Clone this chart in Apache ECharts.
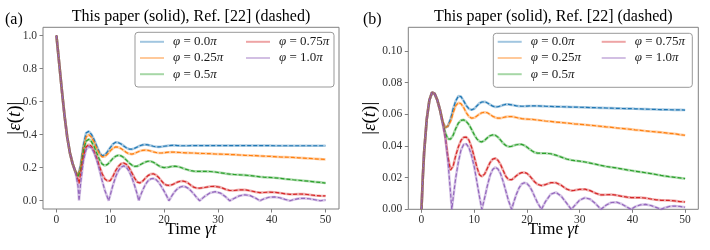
<!DOCTYPE html>
<html><head><meta charset="utf-8">
<script src="https://cdn.jsdelivr.net/npm/echarts@6/dist/echarts.min.js"></script>
<style>
html,body{margin:0;padding:0;background:#fff;}
#a,#b{position:absolute;top:0;width:355px;height:250px;}
#a{left:0}#b{left:355px}
</style>
</head><body><div id="a"></div><div id="b"></div>
<script>
// ---------- DATA ----------
const phiLabels = ['0.0', '0.25', '0.5', '0.75', '1.0'];
const colors = ['#1f77b4', '#ff7f0e', '#2ca02c', '#d62728', '#9467bd'];

const xTicks = [0, 10, 20, 30, 40, 50];
const yTicksA = [0, 0.2, 0.4, 0.6, 0.8, 1.0];
const yTicksB = [0, 0.02, 0.04, 0.06, 0.08, 0.10];

// panel (a): time grid
const tA = [0,0.5,1,1.5,2,2.5,3,3.5,4,4.2,
  4.5,5,5.5,6,6.5,7,7.5,8,8.5,9,9.5,9.7,
  10,10.5,11,11.5,12,12.5,13,13.5,14,14.5,15,15.3,
  15.5,16,16.5,17,17.5,18,18.5,19,19.5,20,20.5,20.9,
  21.5,22,22.5,23,23.5,24,24.5,25,25.5,26,26.6,
  27.5,28.5,29.5,30.5,31.5,32.2,
  33,34,35,36,37,37.8,
  38.5,39.5,40.5,41.5,42.5,43.4,
  44,45,46,47,48,49,50];

const blueA = [1.0,0.835,0.67,0.515,0.385,0.29,0.225,0.178,0.15,0.15,
  0.215,0.335,0.41,0.42,0.402,0.37,0.33,0.292,0.272,0.278,0.298,0.308,
  0.322,0.343,0.354,0.352,0.344,0.332,0.32,0.313,0.312,0.317,0.325,0.33,
  0.333,0.338,0.34,0.338,0.334,0.33,0.327,0.326,0.327,0.33,0.332,0.334,
  0.335,0.335,0.334,0.333,0.333,0.333,0.333,0.334,0.334,0.334,0.334,
  0.334,0.334,0.334,0.334,0.334,0.334,
  0.334,0.334,0.334,0.334,0.334,0.334,
  0.334,0.334,0.333,0.333,0.333,0.333,
  0.333,0.333,0.333,0.333,0.333,0.333,0.333];

const orangeA = [1.0,0.835,0.67,0.515,0.385,0.29,0.225,0.178,0.15,0.148,
  0.205,0.32,0.385,0.4,0.385,0.355,0.317,0.283,0.266,0.268,0.283,0.29,
  0.302,0.318,0.326,0.324,0.316,0.304,0.292,0.284,0.282,0.286,0.294,0.298,
  0.301,0.305,0.307,0.305,0.301,0.296,0.292,0.289,0.289,0.291,0.293,0.294,
  0.295,0.294,0.293,0.292,0.291,0.29,0.29,0.289,0.289,0.288,0.287,
  0.286,0.285,0.283,0.282,0.281,0.28,
  0.279,0.277,0.275,0.274,0.273,0.271,
  0.27,0.269,0.267,0.265,0.264,0.263,
  0.262,0.26,0.258,0.256,0.254,0.252,0.25];

const greenA = [1.0,0.835,0.67,0.515,0.385,0.29,0.225,0.178,0.145,0.138,
  0.19,0.3,0.36,0.372,0.358,0.328,0.288,0.248,0.222,0.213,0.22,0.226,
  0.238,0.256,0.269,0.275,0.272,0.262,0.246,0.229,0.216,0.208,0.209,0.213,
  0.217,0.226,0.234,0.239,0.239,0.233,0.223,0.212,0.204,0.201,0.202,0.204,
  0.208,0.209,0.207,0.203,0.197,0.191,0.186,0.182,0.179,0.178,0.178,
  0.178,0.177,0.174,0.169,0.164,0.161,
  0.159,0.157,0.155,0.152,0.148,0.145,
  0.143,0.141,0.139,0.136,0.132,0.129,
  0.127,0.124,0.121,0.118,0.114,0.111,0.107];

const redA = [1.0,0.835,0.67,0.515,0.385,0.29,0.225,0.178,0.13,0.105,
  0.17,0.27,0.325,0.34,0.33,0.3,0.257,0.208,0.163,0.132,0.119,0.117,
  0.122,0.148,0.182,0.208,0.224,0.228,0.22,0.2,0.17,0.138,0.113,0.107,
  0.108,0.118,0.136,0.152,0.161,0.163,0.156,0.141,0.121,0.102,0.094,0.093,
  0.097,0.105,0.113,0.118,0.119,0.115,0.106,0.093,0.082,0.077,0.076,
  0.08,0.086,0.087,0.081,0.068,0.062,
  0.062,0.066,0.066,0.061,0.053,0.049,
  0.05,0.052,0.051,0.047,0.042,0.039,
  0.039,0.041,0.04,0.036,0.032,0.03,0.029];

const purpleA = [1.0,0.835,0.67,0.515,0.385,0.29,0.225,0.178,0.09,0.0,
  0.11,0.24,0.31,0.328,0.32,0.29,0.245,0.185,0.12,0.062,0.018,0.0,
  0.035,0.095,0.145,0.182,0.203,0.211,0.202,0.178,0.142,0.094,0.04,0.0,
  0.022,0.062,0.097,0.12,0.132,0.135,0.128,0.111,0.086,0.058,0.028,0.0,
  0.033,0.056,0.073,0.083,0.087,0.084,0.075,0.06,0.042,0.022,0.0,
  0.025,0.047,0.055,0.046,0.022,0.0,
  0.014,0.03,0.036,0.031,0.016,0.0,
  0.011,0.021,0.023,0.018,0.008,0.0,
  0.006,0.013,0.015,0.012,0.006,0.0,0.005];

// panel (b): time grid
const tB = [0,0.25,0.5,1,1.5,2,2.5,3,3.5,4,
  4.5,5,5.5,5.75,
  6,6.5,7,7.5,8,8.5,9,9.5,10,10.5,11,11.45,
  12,12.5,13,13.5,14,14.5,15,15.5,16,16.5,17.1,
  17.5,18,18.5,19,19.5,20,20.5,21,21.5,22,22.75,
  23.5,24.5,25.5,26.5,27.5,28.4,
  29,30,31,32,33,34.05,
  35,36,37,38,39,39.75,
  40.5,41.5,42.5,43.5,44.5,45.45,
  46,47,48,49,50];

const blueB = [0,0.02,0.036,0.057,0.069,0.0738,0.073,0.069,0.063,0.0555,
  0.0517,0.0525,0.057,0.060,
  0.0635,0.0685,0.0715,0.0712,0.0685,0.0655,0.0635,0.0628,0.0635,0.0653,0.067,0.0678,
  0.068,0.0672,0.0662,0.0652,0.0647,0.0648,0.0653,0.0659,0.0663,0.0663,0.066,
  0.0657,0.0654,0.0652,0.0651,0.0651,0.0652,0.0653,0.0653,0.0653,0.0653,0.0652,
  0.0651,0.065,0.0649,0.0648,0.0647,0.0646,
  0.0646,0.0645,0.0644,0.0643,0.0642,0.0641,
  0.064,0.0639,0.0638,0.0637,0.0636,0.0636,
  0.0635,0.0634,0.0633,0.0632,0.0631,0.063,
  0.063,0.0629,0.0628,0.0628,0.0627];

const orangeB = [0,0.02,0.036,0.057,0.069,0.0738,0.073,0.069,0.063,0.0555,
  0.0517,0.0525,0.0555,0.058,
  0.061,0.0655,0.0673,0.0667,0.0643,0.061,0.0586,0.0576,0.0578,0.0589,0.0602,0.061,
  0.0613,0.061,0.0599,0.0588,0.058,0.0576,0.0576,0.058,0.0584,0.0586,0.0586,
  0.0584,0.058,0.0576,0.0573,0.0571,0.057,0.0569,0.0568,0.0566,0.0564,0.0561,
  0.0558,0.0555,0.0551,0.0548,0.0545,0.0542,
  0.054,0.0537,0.0534,0.0531,0.0528,0.0524,
  0.0521,0.0518,0.0514,0.0511,0.0508,0.0505,
  0.0502,0.0499,0.0495,0.0492,0.0489,0.0486,
  0.0484,0.048,0.0477,0.0472,0.0468];

const greenB = [0,0.02,0.036,0.057,0.069,0.0738,0.073,0.069,0.063,0.055,
  0.0485,0.0445,0.0443,0.0452,
  0.0468,0.051,0.0545,0.0562,0.0565,0.0555,0.0535,0.0505,0.0472,0.0445,0.0429,0.0426,
  0.0436,0.0452,0.0465,0.047,0.0468,0.0456,0.0437,0.0417,0.0403,0.0396,0.0398,
  0.0403,0.0408,0.041,0.041,0.0404,0.0393,0.038,0.0368,0.0359,0.0355,0.0354,
  0.0354,0.0351,0.0342,0.033,0.0318,0.0311,
  0.0308,0.0304,0.0299,0.0292,0.0285,0.0277,
  0.0271,0.0266,0.0261,0.0255,0.0249,0.0245,
  0.0241,0.0236,0.0231,0.0226,0.022,0.0214,
  0.0211,0.0206,0.0202,0.0198,0.0194];

const redB = [0,0.02,0.036,0.057,0.069,0.0738,0.073,0.069,0.063,0.0555,
  0.046,0.0335,0.0248,0.0245,
  0.0272,0.034,0.0395,0.0435,0.0455,0.0456,0.0437,0.0393,0.0332,0.0267,0.0218,0.0207,
  0.0224,0.026,0.0295,0.0317,0.0322,0.031,0.0283,0.0245,0.0208,0.0188,0.0187,
  0.0197,0.0212,0.0225,0.0232,0.0233,0.0227,0.0212,0.0192,0.0172,0.0158,0.015,
  0.0156,0.0168,0.0168,0.0152,0.0128,0.0118,
  0.012,0.0126,0.0127,0.0118,0.0102,0.0091,
  0.0092,0.0093,0.0089,0.0082,0.0077,0.0074,
  0.0074,0.0074,0.0071,0.0065,0.006,0.0057,
  0.0057,0.0056,0.0053,0.0049,0.0046];

const purpleB = [0,0.02,0.036,0.057,0.069,0.0738,0.073,0.069,0.063,0.0545,
  0.046,0.031,0.011,0,
  0.007,0.02,0.03,0.0375,0.041,0.0413,0.039,0.034,0.027,0.0175,0.008,0,
  0.0075,0.015,0.0213,0.0252,0.0265,0.0255,0.0225,0.0175,0.0115,0.0055,0,
  0.0045,0.0095,0.0135,0.016,0.0168,0.0163,0.0145,0.0115,0.0078,0.0042,0,
  0.0048,0.0095,0.0107,0.0083,0.004,0,
  0.0022,0.0058,0.0073,0.0064,0.0036,0,
  0.0026,0.0043,0.0045,0.0033,0.0014,0,
  0.0016,0.0028,0.0031,0.0024,0.0012,0,
  0.0008,0.0018,0.0021,0.0018,0.0013];

// ---------- BUILD ----------
const SERIF = '"Liberation Serif", "DejaVu Serif", serif';
const names = phiLabels.map(p => 'φ = ' + p + 'π');
const fmtLegend = name => {
  const p = phiLabels[names.indexOf(name)];
  return '{i|φ} = ' + p + '{i|π}';
};

function build(el, t, vals, cfg) {
  const chart = echarts.init(document.getElementById(el), null, {renderer: 'canvas'});
  const series = [];
  vals.forEach((arr, i) => {
    const data = t.map((x, j) => [x, arr[j]]);
    series.push({
      type: 'line', name: names[i], data, symbol: 'none', showSymbol: false,
      lineStyle: {width: 2.6, color: colors[i], opacity: 0.38},
      itemStyle: {color: colors[i]}, z: 2, silent: true, animation: false
    });
    series.push({
      type: 'line', name: names[i] + ' ref', data, symbol: 'none', showSymbol: false,
      lineStyle: {width: 1.2, color: colors[i], type: [4, 2]},
      itemStyle: {color: colors[i]}, z: 3, silent: true, animation: false
    });
  });
  const legendText = {
    fontFamily: SERIF, fontSize: 13, color: '#1a1a1a', padding: [0, 0, 0, 4],
    rich: {i: {fontFamily: SERIF, fontSize: 13, fontStyle: 'italic', color: '#1a1a1a'}}
  };
  const legendCommon = {
    orient: 'vertical', itemWidth: 24, itemHeight: 14, itemGap: 3.2, padding: 0,
    top: cfg.legTop, formatter: fmtLegend, textStyle: legendText, selectedMode: false, z: 6,
    icon: 'path://M0,0 L24,0 L24,2 L0,2 Z',
    itemStyle: {opacity: 0.42}
  };
  const g = cfg.grid;
  const tickStyle = {color: '#808080', width: 1};
  chart.setOption({
    animation: false,
    grid: {left: g[0], top: g[1], width: g[2], height: g[3], show: true,
      borderColor: '#808080', borderWidth: 1, backgroundColor: 'transparent',
      outerBoundsMode: 'none', containLabel: false},
    xAxis: {
      type: 'value', min: -2.5, max: 52.5,
      axisLine: {show: false, onZero: false}, splitLine: {show: false},
      axisTick: {show: true, inside: false, customValues: xTicks, length: 3.5, lineStyle: tickStyle},
      axisLabel: {customValues: xTicks, margin: 5, fontFamily: SERIF, fontSize: 11.5, color: '#333'}
    },
    yAxis: {
      type: 'value', min: cfg.ymin, max: cfg.ymax,
      axisLine: {show: false, onZero: false}, splitLine: {show: false},
      axisTick: {show: true, inside: false, customValues: cfg.yTicks, length: 3.5, lineStyle: tickStyle},
      axisLabel: {customValues: cfg.yTicks, margin: 6, fontFamily: SERIF, fontSize: 11.5, color: '#333',
        formatter: v => v.toFixed(cfg.dec)}
    },
    legend: [
      Object.assign({}, legendCommon, {left: cfg.legLeft[0], data: names.slice(0, 3)}),
      Object.assign({}, legendCommon, {left: cfg.legLeft[1], data: names.slice(3)})
    ],
    graphic: [
      {type: 'rect', z: 5, shape: {x: cfg.box[0], y: cfg.box[1], width: cfg.box[2], height: cfg.box[3], r: 3},
        style: {fill: 'rgba(255,255,255,0.85)', stroke: '#999', lineWidth: 1}},
      {type: 'text', z: 7, x: g[0] + g[2] / 2, y: 17,
        style: {text: 'This paper (solid), Ref. [22] (dashed)', font: '16px ' + SERIF, fill: '#000',
          textAlign: 'center', textVerticalAlign: 'middle', align: 'center', verticalAlign: 'middle'}},
      {type: 'text', z: 7, x: cfg.panelX, y: 20,
        style: {text: cfg.panel, font: '16px ' + SERIF, fill: '#000',
          textAlign: 'left', textVerticalAlign: 'middle', align: 'left', verticalAlign: 'middle'}},
      {type: 'text', z: 7, x: g[0] + g[2] / 2, y: 229.5,
        style: {text: 'Time {i|γt}', font: '17px ' + SERIF, fill: '#000',
          textAlign: 'center', textVerticalAlign: 'middle', align: 'center', verticalAlign: 'middle',
          rich: {i: {fontFamily: SERIF, fontSize: 17, fontStyle: 'italic', fill: '#000', color: '#000'}}}},
      {type: 'text', z: 7, x: 15, y: g[1] + g[3] / 2, rotation: Math.PI / 2,
        style: {text: '|{i|ε}({i|t})|', font: '19px ' + SERIF, fill: '#000',
          textAlign: 'center', textVerticalAlign: 'middle', align: 'center', verticalAlign: 'middle',
          rich: {i: {fontFamily: SERIF, fontSize: 19, fontStyle: 'italic', fill: '#000', color: '#000'}}}}
    ],
    series
  });
}

build('a', tA, [blueA, orangeA, greenA, redA, purpleA], {
  grid: [43, 27.3, 296, 181.7], ymin: -0.05, ymax: 1.05, yTicks: yTicksA, dec: 1,
  legTop: 35.3, legLeft: [140, 246], box: [135, 32.3, 199, 54.7], panel: '(a)', panelX: 5
});
build('b', tB, [blueB, orangeB, greenB, redB, purpleB], {
  grid: [53.3, 27.3, 290, 182], ymin: 0, ymax: 0.115, yTicks: yTicksB, dec: 2,
  legTop: 35.3, legLeft: [142.7, 246.7], box: [138.3, 33.3, 199, 54], panel: '(b)', panelX: 8
});
</script></body></html>
